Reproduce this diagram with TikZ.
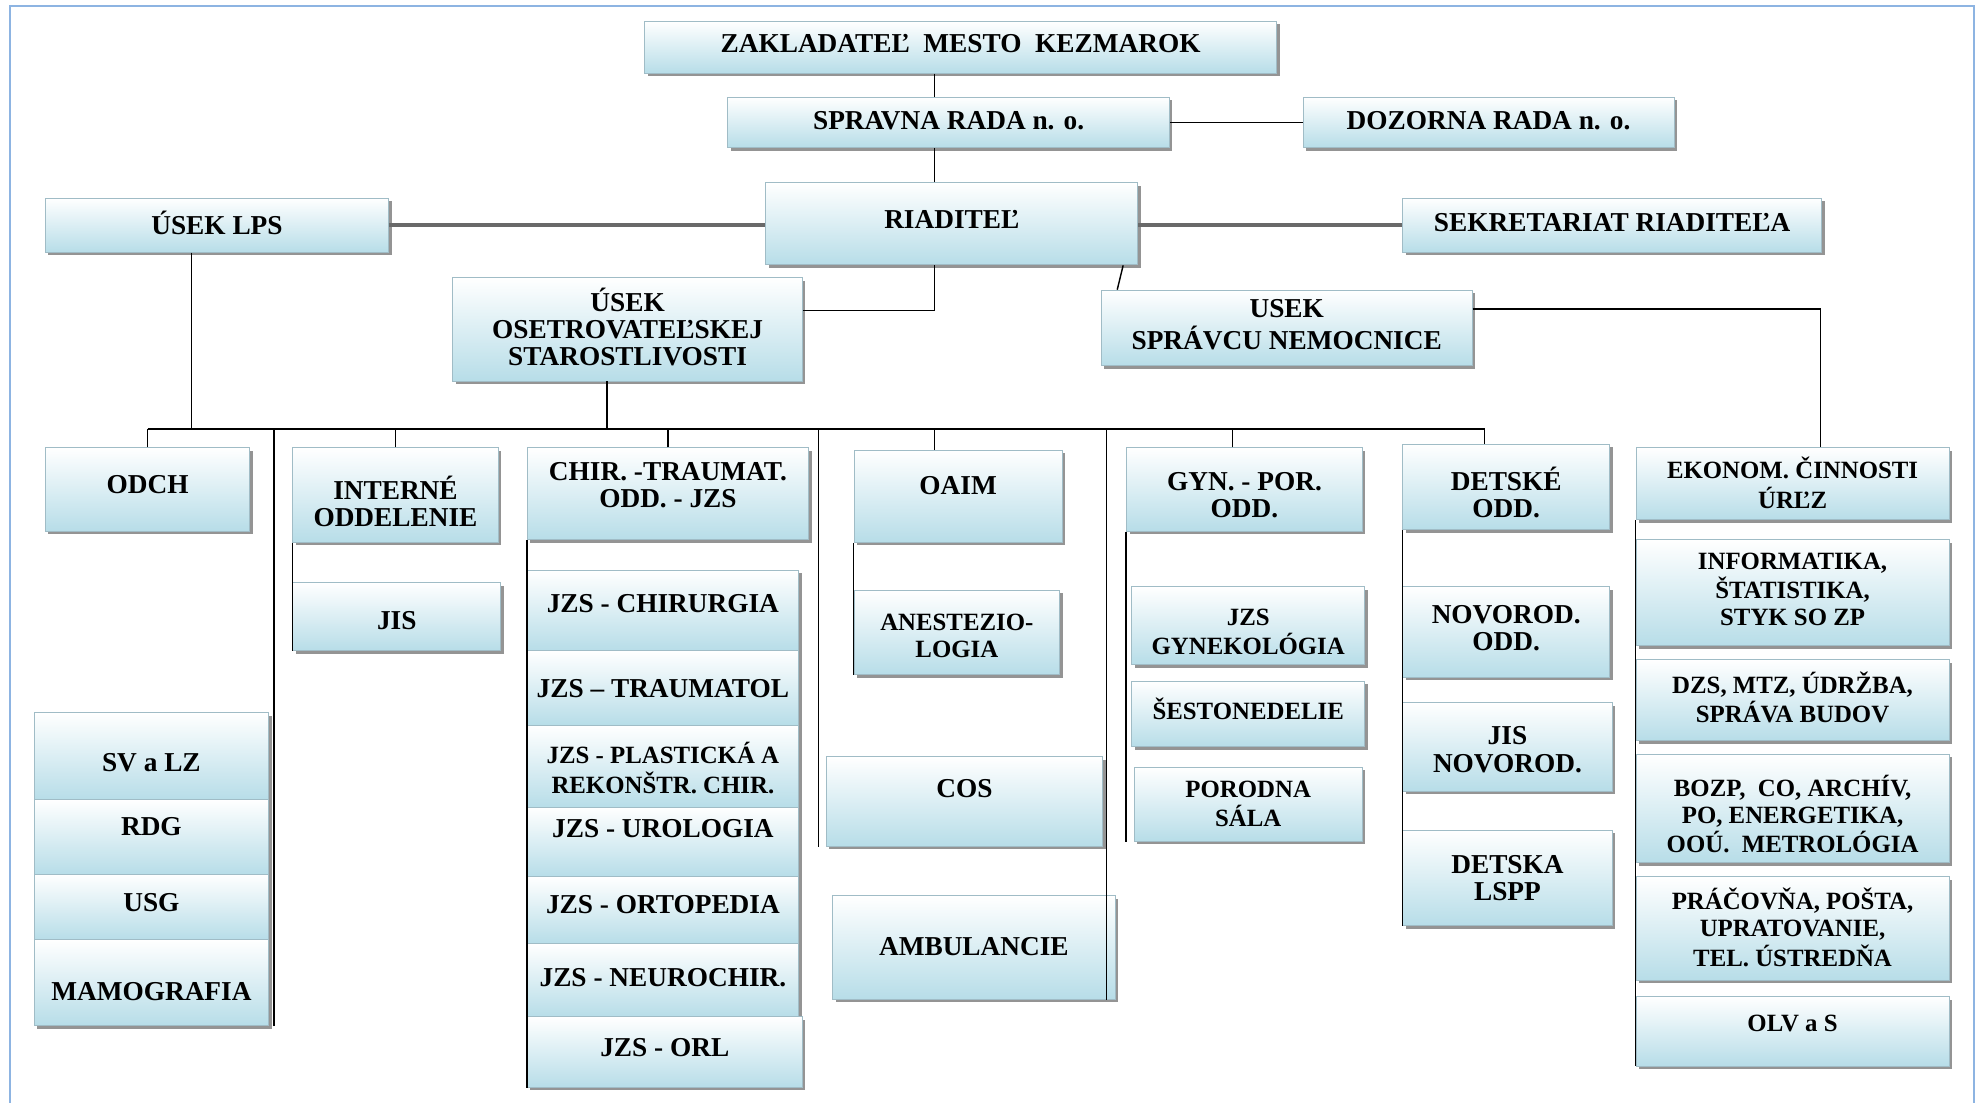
\documentclass[tikz,border=0pt]{standalone}
\usepackage{fontspec}
\setmainfont{Liberation Serif}
\usetikzlibrary{positioning, fit, shadows, calc}

\definecolor{boxblue}{RGB}{183,221,232}
\definecolor{boxedge}{RGB}{160,188,198}
\definecolor{linegray}{RGB}{105,105,105}
\definecolor{frameblue}{RGB}{141,180,226}

% text of a box, optional arg raises it
\newcommand{\lbl}[2][0pt]{\raisebox{\dimexpr#1-0.37em\relax}[0pt][0pt]{\begin{tabular}{@{}c@{}}#2\end{tabular}}}

\tikzset{
  dept/.style={rectangle, draw=boxedge, line width=0.5pt, top color=white, bottom color=boxblue,
    inner sep=0pt, font=\fontsize{15.4pt}{15.3pt}\selectfont\bfseries,
    drop shadow={shadow xshift=0.6mm, shadow yshift=-0.6mm, fill=black!60, opacity=0.7}},
  deptsm/.style={dept, font=\fontsize{14pt}{15pt}\selectfont\bfseries},
  link/.style={draw=black, line width=0.8pt},
  mainlink/.style={draw=linegray, line width=2pt},
}

\begin{document}
\begin{tikzpicture}[x=0.25mm, y=-0.25mm]
\useasboundingbox (0,0) rectangle (1568,874);
\draw[frameblue, line width=1pt] (8,874) -- (8,5) -- (1565,5) -- (1565,874);

% vedenie
\node[dept, fit={(511,17) (1012,58)}] (zak) {\lbl[2.5pt]{ZAKLADATEĽ \ MESTO \ KEZMAROK}};
\node[dept, fit={(577,77) (927,117)}] (spr) {\lbl[1.4pt]{SPRAVNA RADA n. o.}};
\node[dept, fit={(1033,77) (1327,117)}] (doz) {\lbl[1.4pt]{DOZORNA RADA n. o.}};
\node[dept, fit={(36,157) (308,200)}] (lps) {\lbl[1pt]{ÚSEK LPS}};
\node[dept, fit={(607,145) (902,210)}] (riad) {\lbl[2.5pt]{RIADITEĽ}};
\node[dept, fit={(1112,157) (1444,200)}] (sekr) {\lbl[1.8pt]{SEKRETARIAT RIADITEĽA}};
\node[dept, fit={(359,220) (636,302)}] (ose) {\lbl[1.4pt]{ÚSEK\\OSETROVATEĽSKEJ\\STAROSTLIVOSTI}};
\node[dept, fit={(873,230) (1167,290)}] (sprn) {\lbl[2.1pt]{USEK\\SPRÁVCU NEMOCNICE}};

% LPS
\node[dept, fit={(36,355) (198,421)}] (odch) {\lbl[2.8pt]{ODCH}};
\node[dept, fit={(27,565) (213,634)}] (svlz) {\lbl[-3.2pt]{SV a LZ}};
\node[dept, fit={(27,634) (213,693)}] (rdg) {\lbl[6pt]{RDG}};
\node[dept, fit={(27,693) (213,745)}] (usg) {\lbl[2.8pt]{USG}};
\node[dept, fit={(27,745) (213,813)}] (mamo) {\lbl[-5pt]{MAMOGRAFIA}};

% interne
\node[dept, fit={(232,355) (395,430)}] (intr) {\lbl[-3.6pt]{INTERNÉ\\ODDELENIE}};
\node[dept, fit={(232,462) (397,516)}] (jis) {\lbl[-2.1pt]{JIS}};

% chirurgia
\node[dept, fit={(418,355) (641,428)}] (chir) {\lbl[5pt]{CHIR. -TRAUMAT.\\ODD. - JZS}};
\node[dept, fit={(418,452) (633,516)}] (jzsch) {\lbl[4.3pt]{JZS - CHIRURGIA}};
\node[dept, fit={(418,516) (633,575)}] (traum) {\lbl{JZS -- TRAUMATOL}};
\node[deptsm, fit={(418,575) (633,640)}] (plast) {\lbl[-1.4pt]{JZS - PLASTICKÁ A\\REKONŠTR. CHIR.}};
\node[dept, fit={(418,640) (633,695)}] (uro) {\lbl[7.5pt]{JZS - UROLOGIA}};
\node[dept, fit={(418,695) (633,748)}] (orto) {\lbl[3.2pt]{JZS - ORTOPEDIA}};
\node[dept, fit={(418,748) (633,806)}] (neuro) {\lbl[1.4pt]{JZS - NEUROCHIR.}};
\node[dept, fit={(418,806) (636,862)}] (orl) {\lbl[2.8pt]{JZS - ORL}};

% OAIM
\node[dept, fit={(677,357) (842,430)}] (oaim) {\lbl[6pt]{OAIM}};
\node[deptsm, fit={(677,468) (840,535)}] (anest) {\lbl[-1.8pt]{ANESTEZIO-\\LOGIA}};
\node[dept, fit={(655,600) (874,671)}] (cos) {\lbl[7.5pt]{COS}};
\node[dept, fit={(660,710) (884,792)}] (amb) {\lbl[0.7pt]{AMBULANCIE}};

% gynekologia
\node[dept, fit={(893,355) (1080,421)}] (gyn) {\lbl[-2.8pt]{GYN. - POR.\\ODD.}};
\node[deptsm, fit={(897,465) (1082,527)}] (jzsg) {\lbl[-3.6pt]{JZS\\GYNEKOLÓGIA}};
\node[deptsm, fit={(897,540) (1082,592)}] (sest) {\lbl[2.1pt]{ŠESTONEDELIE}};
\node[deptsm, fit={(899,608) (1080,667)}] (poro) {\lbl{PORODNA\\SÁLA}};

% detske
\node[dept, fit={(1112,352) (1276,420)}] (det) {\lbl[-3.2pt]{DETSKÉ\\ODD.}};
\node[dept, fit={(1112,465) (1276,537)}] (novo) {\lbl[2.5pt]{NOVOROD.\\ODD.}};
\node[dept, fit={(1112,557) (1278,627)}] (jisn) {\lbl[-1.4pt]{JIS\\NOVOROD.}};
\node[dept, fit={(1112,658) (1278,734)}] (lspp) {\lbl{DETSKA\\LSPP}};

% spravca
\node[deptsm, fit={(1297,355) (1545,412)}] (ekon) {\lbl{EKONOM. ČINNOSTI\\ÚRĽZ}};
\node[deptsm, fit={(1297,428) (1545,512)}] (info) {\lbl[2.1pt]{INFORMATIKA,\\ŠTATISTIKA,\\STYK SO ZP}};
\node[deptsm, fit={(1297,523) (1545,587)}] (dzs) {\lbl[1pt]{DZS, MTZ, ÚDRŽBA,\\SPRÁVA BUDOV}};
\node[deptsm, fit={(1297,598) (1545,684)}] (bozp) {\lbl[-3.6pt]{BOZP, \ CO, ARCHÍV,\\PO, ENERGETIKA,\\OOÚ. \ METROLÓGIA}};
\node[deptsm, fit={(1297,695) (1545,777)}] (prac) {\lbl{PRÁČOVŇA, POŠTA,\\UPRATOVANIE,\\TEL. ÚSTREDŇA}};
\node[deptsm, fit={(1297,790) (1545,845)}] (olv) {\lbl[4.6pt]{OLV a S}};

% pomocne body
\coordinate (spine) at (741,0);
\coordinate (bus) at (0,340);
\coordinate (lpsdrop) at ([xshift=-5mm]lps.south);
\coordinate (osedrop) at ([xshift=-4.1mm]ose.south);
\coordinate (gyndrop) at ([xshift=-2.4mm]gyn.north);
\coordinate (detdrop) at ([xshift=-4.25mm]det.north);
\coordinate (ekondrop) at ([xshift=5.5mm]ekon.north);
\coordinate (mamoline) at ([xshift=1mm]mamo.south east);
\coordinate (cosline) at ([xshift=-1.5mm]cos.south west);
\coordinate (ambline) at ([xshift=-1.75mm]amb.south east);

% spojnice
\draw[link] (zak.south -| spine) -- (spr.north -| spine);
\draw[link] (spr.south -| spine) -- (riad.north -| spine);
\draw[link] (spr.east) -- (doz.west);
\draw[mainlink] (lps.east) -- (lps.east -| riad.west);
\draw[mainlink] (riad.east |- sekr.west) -- (sekr.west);
\draw[link] (riad.south -| spine) |- ([yshift=3.75mm]ose.east);
\draw[link] ([xshift=-3mm]riad.south east) -- ([xshift=3.25mm]sprn.north west);
\draw[link] ([yshift=3.75mm]sprn.east) -| (ekondrop);

\draw[link] (lpsdrop) -- (lpsdrop |- bus);
\draw[link] (osedrop) -- (osedrop |- bus);
\draw[link] (odch.north |- bus) -- (detdrop |- bus);
\draw[link] (odch.north) -- (odch.north |- bus);
\draw[link] (intr.north) -- (intr.north |- bus);
\draw[link] (chir.north) -- (chir.north |- bus);
\draw[link] (oaim.north -| spine) -- (spine |- bus);
\draw[link] (gyndrop) -- (gyndrop |- bus);
\draw[link] (detdrop) -- (detdrop |- bus);
\draw[link] (mamoline) -- (mamoline |- bus);
\draw[link] (cosline) -- (cosline |- bus);
\draw[link] (ambline) -- (ambline |- bus);

\draw[link] (intr.south west) -- (jis.south west);
\draw[link] (chir.south west) -- (orl.south west);
\draw[link] (oaim.south west) -- (anest.south west);
\draw[link] (gyn.south west) -- (gyn.south west |- poro.south);
\draw[link] (det.south west) -- (lspp.south west);
\draw[link] (ekon.south west) -- (olv.south west);
\end{tikzpicture}
\end{document}
